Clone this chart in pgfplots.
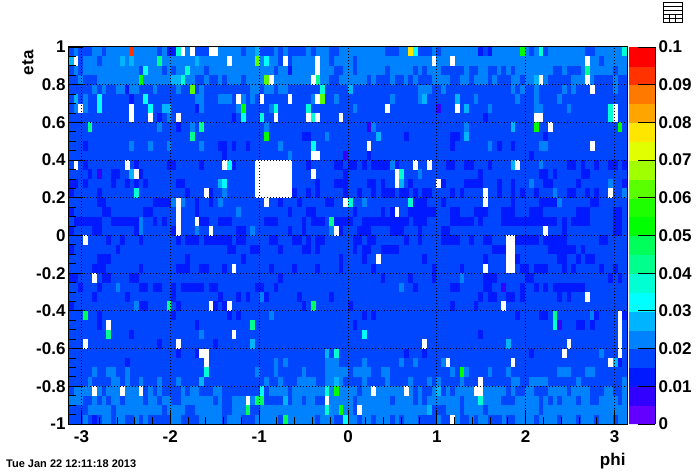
\documentclass[border=0pt]{standalone}
\usepackage{fontspec}
\setmainfont{Liberation Sans}
\usepackage{pgfplots}
\usepackage{pgfplotstable}
\pgfplotsset{compat=1.18}

% i = first phi bin (0-119), t = eta row from the top (0-39), n = bins in run, v = value*1000
\pgfplotstableread{
i t n v
0 0 120 22
0 1 120 22
0 2 120 22
0 3 120 22
0 4 120 17
0 5 120 17
0 6 120 17
0 7 120 17
0 8 120 17
0 9 120 17
0 10 120 17
0 11 120 17
0 12 120 17
0 13 120 17
0 14 120 17
0 15 120 17
0 16 120 17
0 17 120 17
0 18 120 17
0 19 120 17
0 20 120 17
0 21 120 17
0 22 120 17
0 23 120 17
0 24 120 17
0 25 120 17
0 26 120 17
0 27 120 17
0 28 120 17
0 29 120 17
0 30 120 17
0 31 120 17
0 32 120 17
0 33 120 17
0 34 120 17
0 35 120 17
0 36 120 22
0 37 120 22
0 38 120 22
0 39 120 22
0 0 1 17
2 0 3 17
7 0 1 17
13 0 1 92
19 0 1 17
21 0 2 12
23 0 1 37
27 0 3 17
37 0 1 17
40 0 1 27
41 0 3 17
45 0 1 17
47 0 4 17
52 0 1 17
56 0 2 17
68 0 3 17
73 0 1 77
74 0 1 32
75 0 3 17
79 0 1 17
88 0 1 12
89 0 1 17
90 0 1 12
97 0 1 52
99 0 1 17
101 0 1 37
102 0 1 17
111 0 2 17
119 0 1 37
0 1 1 27
2 1 1 17
6 1 1 17
11 1 1 27
13 1 1 27
19 1 1 42
27 1 1 27
40 1 1 62
42 1 1 32
45 1 1 17
47 1 1 17
56 1 1 17
61 1 1 17
114 1 1 17
0 2 1 17
2 2 1 17
15 2 1 17
16 2 1 32
20 2 1 17
22 2 1 17
25 2 1 37
29 2 1 17
44 2 1 17
47 2 1 12
57 2 2 17
61 2 1 17
68 2 1 17
74 2 1 17
76 2 1 17
80 2 5 17
86 2 2 17
90 2 2 17
93 2 1 17
95 2 1 17
104 2 2 17
107 2 3 17
111 2 1 42
117 2 1 17
0 3 2 17
3 3 3 17
15 3 1 52
22 3 2 27
24 3 1 37
27 3 2 17
30 3 2 17
33 3 1 17
37 3 1 17
42 3 1 62
53 3 1 42
56 3 2 17
64 3 1 17
66 3 3 17
70 3 2 17
73 3 1 17
75 3 3 17
82 3 2 17
86 3 1 17
90 3 1 17
92 3 3 17
97 3 1 17
100 3 1 27
103 3 5 17
113 3 4 17
118 3 2 17
5 4 1 22
7 4 1 22
10 4 2 22
12 4 1 12
13 4 2 22
18 4 1 22
23 4 1 22
26 4 1 62
28 4 1 22
39 4 2 22
42 4 2 22
45 4 2 22
54 4 1 37
60 4 1 27
75 4 3 22
80 4 1 22
95 4 1 22
97 4 1 22
100 4 1 22
106 4 1 22
108 4 1 22
117 4 1 22
1 5 1 27
3 5 1 22
6 5 1 32
13 5 1 12
16 5 1 32
27 5 2 22
32 5 3 22
37 5 1 22
39 5 1 22
52 5 1 22
54 5 1 62
57 5 1 22
69 5 1 22
75 5 1 22
76 5 1 27
83 5 1 27
87 5 1 22
96 5 1 22
100 5 1 22
105 5 1 22
1 6 1 22
3 6 1 22
6 6 1 32
17 6 1 32
20 6 2 27
27 6 1 12
28 6 1 22
36 6 1 22
37 6 1 52
43 6 1 22
44 6 1 37
51 6 1 37
61 6 1 22
79 6 1 7
85 6 1 27
90 6 1 22
100 6 2 22
107 6 1 22
116 6 1 37
19 7 1 12
21 7 1 22
35 7 1 12
37 7 1 32
41 7 1 37
52 7 1 37
89 7 1 12
116 7 1 37
4 8 1 42
19 8 1 22
23 8 1 12
26 8 1 22
28 8 1 42
42 8 1 22
64 8 1 7
65 8 1 22
85 8 1 22
95 8 1 27
100 8 1 52
118 8 1 52
26 9 1 42
42 9 1 52
50 9 2 12
55 9 1 22
66 9 1 27
72 9 1 12
82 9 2 12
85 9 1 27
102 9 1 12
3 10 1 12
13 10 1 22
17 10 1 22
21 10 1 22
28 10 1 22
32 10 2 12
35 10 1 12
38 10 1 12
45 10 1 22
52 10 1 32
82 10 1 12
90 10 1 22
92 10 1 12
95 10 1 12
101 10 2 22
33 11 1 12
47 11 1 22
59 11 1 7
64 11 1 12
99 11 1 12
3 12 1 12
14 12 1 12
21 12 2 12
28 12 1 12
34 12 1 32
35 12 1 12
51 12 1 12
57 12 2 12
60 12 2 12
63 12 1 12
65 12 4 12
69 12 1 22
70 12 1 12
81 12 2 12
85 12 2 12
90 12 1 12
95 12 1 27
101 12 1 22
107 12 2 12
110 12 1 12
113 12 1 12
116 12 2 12
119 12 1 12
4 13 1 12
6 13 1 7
9 13 2 12
13 13 1 27
15 13 1 12
59 13 1 12
71 13 1 37
75 13 1 22
88 13 1 12
101 13 2 12
104 13 1 12
110 13 2 12
0 14 2 12
3 14 1 12
9 14 1 12
12 14 1 12
14 14 1 12
16 14 1 12
23 14 2 12
32 14 1 27
33 14 1 32
53 14 1 12
57 14 3 12
64 14 2 12
67 14 1 12
71 14 1 27
73 14 1 12
80 14 1 12
85 14 4 12
92 14 1 12
95 14 1 12
99 14 1 22
102 14 2 12
109 14 1 12
116 14 1 22
119 14 1 12
0 15 1 12
6 15 1 12
14 15 1 37
25 15 1 12
30 15 1 12
33 15 1 22
48 15 1 12
51 15 1 12
53 15 1 12
59 15 1 12
62 15 1 12
65 15 1 12
67 15 3 12
71 15 2 12
74 15 1 12
76 15 2 12
82 15 1 12
84 15 1 12
92 15 1 12
95 15 1 12
97 15 1 12
100 15 1 12
104 15 1 22
107 15 2 12
111 15 1 12
113 15 1 12
119 15 1 22
6 16 2 12
18 16 4 12
22 16 1 22
24 16 1 22
27 16 1 12
30 16 1 12
32 16 1 22
45 16 1 12
49 16 1 12
55 16 2 12
60 16 1 37
63 16 1 22
73 16 1 37
74 16 3 12
80 16 1 12
95 16 1 12
101 16 4 12
105 16 1 22
112 16 2 12
0 17 1 12
7 17 2 12
16 17 2 12
27 17 1 12
36 17 1 22
47 17 1 12
51 17 2 12
61 17 1 12
67 17 1 12
69 17 1 12
73 17 6 12
82 17 2 12
87 17 3 12
93 17 3 12
99 17 3 12
109 17 3 12
117 17 2 12
1 18 6 12
9 18 6 12
15 18 1 22
18 18 1 12
20 18 1 12
28 18 2 12
32 18 3 12
42 18 3 12
50 18 1 12
52 18 3 12
56 18 1 42
57 18 4 12
63 18 10 12
74 18 3 12
82 18 5 12
88 18 1 12
93 18 3 12
96 18 9 12
106 18 1 12
108 18 4 12
117 18 2 12
0 19 1 12
5 19 2 12
14 19 1 12
15 19 1 22
22 19 1 12
27 19 1 22
36 19 2 12
39 19 1 22
47 19 1 12
50 19 1 12
56 19 1 22
58 19 1 12
62 19 3 12
69 19 3 12
75 19 1 12
80 19 2 12
106 19 1 12
117 19 2 12
8 20 1 12
11 20 1 12
15 20 1 12
23 20 1 12
25 20 3 12
29 20 6 12
36 20 2 12
43 20 2 12
48 20 2 12
51 20 1 12
53 20 2 12
61 20 2 12
64 20 2 12
72 20 1 12
75 20 1 12
80 20 4 12
86 20 1 12
89 20 2 12
96 20 5 12
102 20 5 12
114 20 2 12
0 21 1 12
10 21 1 12
34 21 2 12
39 21 2 12
45 21 1 12
50 21 2 12
53 21 1 12
61 21 1 12
63 21 2 12
67 21 4 12
91 21 3 12
103 21 6 12
110 21 1 12
6 22 3 12
25 22 1 12
37 22 1 12
58 22 1 12
63 22 1 12
76 22 1 12
89 22 1 12
96 22 1 12
105 22 2 12
109 22 1 12
111 22 2 12
5 23 3 12
15 23 1 12
23 23 3 12
28 23 2 12
33 23 1 12
43 23 1 12
48 23 1 12
53 23 1 12
58 23 1 12
65 23 1 12
78 23 1 12
84 23 1 12
97 23 2 12
100 23 3 12
106 23 1 12
108 23 1 12
114 23 1 12
117 23 1 12
0 24 2 12
7 24 2 12
13 24 2 12
45 24 1 12
67 24 1 12
73 24 1 12
78 24 1 12
84 24 1 22
89 24 3 12
98 24 2 12
116 24 1 12
118 24 1 12
2 25 1 12
6 25 1 12
10 25 1 22
15 25 2 12
18 25 2 12
22 25 1 12
24 25 5 12
30 25 2 12
40 25 2 12
44 25 1 12
71 25 1 22
74 25 1 12
82 25 2 12
89 25 2 12
93 25 1 7
97 25 1 12
100 25 1 12
102 25 1 12
104 25 7 12
5 26 1 12
12 26 1 12
22 26 1 12
32 26 1 12
36 26 1 12
38 26 1 12
41 26 1 22
42 26 1 12
49 26 1 12
56 26 1 12
88 26 1 12
90 26 2 12
94 26 2 12
97 26 1 12
105 26 1 12
107 26 1 12
0 27 1 12
14 27 1 22
15 27 2 12
21 27 1 42
23 27 1 12
31 27 1 12
33 27 1 12
50 27 1 12
52 27 1 47
60 27 1 12
82 27 1 12
87 27 1 12
3 28 1 47
6 28 1 12
22 28 1 12
34 28 1 12
36 28 1 12
43 28 1 22
63 28 1 12
65 28 1 12
96 28 1 12
101 28 2 12
104 28 1 42
112 28 1 22
113 28 1 12
119 28 1 12
6 29 1 12
27 29 1 12
39 29 1 42
61 29 1 12
104 29 1 37
105 29 1 7
109 29 2 12
112 29 1 12
8 30 1 42
13 30 1 12
28 30 1 22
63 30 1 32
88 30 1 12
19 31 1 12
31 31 1 12
39 31 1 27
94 31 1 27
23 32 1 12
27 32 1 12
55 32 1 27
57 32 1 37
72 32 1 12
76 32 1 12
99 32 1 12
114 32 1 22
12 33 1 12
44 33 1 22
46 33 1 22
55 33 3 22
63 33 1 22
71 33 1 22
74 33 1 22
80 33 1 22
117 33 1 27
118 33 1 12
5 34 1 22
8 34 2 22
12 34 1 22
29 34 1 37
40 34 1 22
44 34 1 22
50 34 1 22
55 34 5 22
61 34 4 22
67 34 2 22
82 34 1 22
84 34 1 52
85 34 1 22
90 34 1 22
94 34 1 22
105 34 3 22
111 34 2 22
4 35 1 22
9 35 2 22
12 35 1 22
15 35 1 22
19 35 1 22
23 35 1 22
28 35 1 27
42 35 1 22
45 35 1 22
49 35 4 22
55 35 2 22
57 35 1 27
58 35 1 22
63 35 1 22
68 35 1 22
73 35 1 22
77 35 1 22
79 35 1 22
84 35 1 22
95 35 2 22
99 35 4 22
109 35 1 22
119 35 1 22
0 36 1 17
7 36 1 17
16 36 1 17
18 36 1 17
20 36 4 17
25 36 1 17
28 36 3 17
33 36 8 17
41 36 1 32
42 36 1 17
47 36 1 17
55 36 1 37
57 36 1 52
62 36 1 17
74 36 1 17
76 36 2 17
79 36 1 27
80 36 1 17
82 36 1 17
94 36 1 17
96 36 2 17
100 36 3 17
107 36 1 17
112 36 3 17
117 36 2 17
3 37 2 17
6 37 1 17
8 37 1 17
11 37 1 17
16 37 1 17
19 37 1 17
22 37 2 17
31 37 1 17
33 37 2 17
40 37 2 47
42 37 4 17
46 37 1 27
47 37 1 17
50 37 1 17
53 37 2 17
61 37 1 17
69 37 1 17
74 37 1 17
76 37 1 17
84 37 1 17
88 37 1 37
93 37 3 17
101 37 1 17
103 37 1 17
105 37 1 17
109 37 1 17
112 37 2 17
118 37 1 17
0 38 4 17
9 38 1 17
20 38 1 17
25 38 2 17
33 38 2 17
38 38 1 47
39 38 2 17
55 38 1 37
58 38 1 52
61 38 1 17
77 38 1 27
78 38 3 17
84 38 1 17
89 38 1 17
101 38 1 17
0 39 3 17
4 39 1 17
5 39 1 12
6 39 1 17
9 39 1 17
12 39 2 17
15 39 1 17
17 39 5 17
24 39 4 17
33 39 1 17
37 39 2 17
39 39 1 17
45 39 1 17
46 39 1 47
53 39 1 17
57 39 2 17
59 39 1 32
62 39 1 17
65 39 1 17
69 39 1 17
71 39 1 17
75 39 4 17
80 39 2 17
84 39 2 17
87 39 1 17
90 39 3 17
94 39 2 17
100 39 1 17
105 39 1 17
109 39 1 17
113 39 1 17
117 39 1 17
}\runs

% empty bins
\pgfplotstableread{
i t n
24 0 1
26 0 1
30 0 2
1 1 1
34 1 1
46 1 1
53 1 1
78 1 1
82 1 1
111 1 1
53 2 1
43 3 1
52 3 1
101 3 1
111 3 1
112 4 1
36 5 1
41 5 1
47 5 1
53 5 1
2 6 1
13 6 1
68 6 1
83 6 1
117 6 1
13 7 1
17 7 1
23 7 1
44 7 1
51 7 1
53 7 1
58 7 1
100 7 2
117 7 1
103 8 1
64 10 1
112 10 1
52 11 2
1 12 1
12 12 1
33 12 1
40 12 8
74 12 1
77 12 1
96 12 1
14 13 1
40 13 8
52 13 1
70 13 1
40 14 8
70 14 1
79 14 1
29 15 1
40 15 8
89 15 1
116 15 1
23 16 1
42 16 1
59 16 1
89 16 1
23 17 1
70 17 1
23 18 1
27 18 1
23 19 1
30 19 1
57 19 1
102 19 1
3 20 1
94 20 2
94 21 2
66 22 1
94 22 2
35 23 1
89 23 1
94 23 2
5 24 1
111 26 1
30 27 1
34 27 1
93 27 1
118 28 1
8 29 1
118 29 1
35 30 1
118 30 1
3 31 1
23 31 1
76 31 1
107 31 1
118 31 1
28 32 2
106 32 1
118 32 1
29 33 1
81 33 1
95 33 1
116 33 1
88 35 1
5 36 1
11 36 1
15 36 1
65 36 1
72 36 1
87 36 2
38 37 1
55 37 1
62 38 1
82 39 1
}\holes

% one run of bins, 4.65pt per bin, 9.425pt per row
\pgfdeclareplotmark{binrun}{%
  \pgfpathrectangle{\pgfpoint{0pt}{-4.74pt}}{\pgfpoint{\runlen*4.65pt+0.06pt}{9.48pt}}%
  \pgfusepathqfill}

\begin{document}
\begin{tikzpicture}[x=1pt,y=1pt]
\useasboundingbox (0,0) rectangle (696,472);
\begin{axis}[
    at={(69pt,48pt)}, anchor=south west,
    scale only axis, width=558pt, height=377pt,
    xmin=-3.14, xmax=3.14, ymin=-1, ymax=1,
    xtick={-3,-2,-1,0,1,2,3},
    xticklabels={-3,-2,-1,0,1,2,3},
    ytick={-1,-0.8,-0.6,-0.4,-0.2,0,0.2,0.4,0.6,0.8,1},
    yticklabels={-1,-0.8,-0.6,-0.4,-0.2,0,0.2,0.4,0.6,0.8,1},
    minor x tick num=4, minor y tick num=3,
    tick align=inside, xtick pos=bottom, ytick pos=left,
    major tick length=14pt, minor tick length=7pt,
    tick style={black, line width=0.9pt},
    tick label style={font=\fontsize{17}{20}\selectfont\bfseries},
    xticklabel style={yshift=-3pt},
    clip mode=individual,
    axis on top,
    axis line style={black, line width=1pt},
    grid=major,
    major grid style={black, line width=1pt, dash pattern=on 1pt off 2pt},
    point meta min=0, point meta max=0.1,
    colormap access=piecewise constant,
    colormap={rootpal}{
      rgb255=(100,0,255) rgb255=(50,0,255) rgb255=(0,25,255) rgb255=(0,70,255)
      rgb255=(0,130,255) rgb255=(0,180,255) rgb255=(0,255,255) rgb255=(0,255,210)
      rgb255=(0,255,140) rgb255=(0,255,90) rgb255=(0,255,0) rgb255=(30,255,0)
      rgb255=(90,255,0) rgb255=(160,255,0) rgb255=(225,255,0) rgb255=(255,230,0)
      rgb255=(255,165,0) rgb255=(255,120,0) rgb255=(255,50,0) rgb255=(255,0,0)
    },
    colorbar sampled,
    colorbar style={
      samples=21,
      at={(1.0036,0)}, anchor=south west,
      width=26pt, height=377pt,
      ytick={0,0.01,0.02,0.03,0.04,0.05,0.06,0.07,0.08,0.09,0.1},
      yticklabels={0,0.01,0.02,0.03,0.04,0.05,0.06,0.07,0.08,0.09,0.1},
      ytick pos=right, tick align=inside,
      grid=none, minor y tick num=0,
      axis line style={draw=none},
      tick style={black, line width=0.9pt},
      yticklabel style={font=\fontsize{17}{20}\selectfont\bfseries, anchor=west, xshift=0pt},
      xticklabel style={yshift=0pt},
      axis on top,
    },
]
\addplot[scatter, only marks, mark=binrun,
    scatter/use mapped color={fill=mapped color},
    visualization depends on={\thisrow{n}\as\runlen},
    point meta={\thisrow{v}/1000}]
    table[x expr={-3.14+0.052333*\thisrow{i}}, y expr={1-0.05*(\thisrow{t}+0.5)}] {\runs};
\addplot[only marks, mark=binrun, mark options={fill=white},
    visualization depends on={\thisrow{n}\as\runlen}]
    table[x expr={-3.14+0.052333*\thisrow{i}}, y expr={1-0.05*(\thisrow{t}+0.5)}] {\holes};
\end{axis}
% palette frame and its long ticks
\draw[black, line width=1pt] (655,48) -- (655,425);
\foreach \k in {0,...,10} \draw[black, line width=0.9pt] (638,48+37.7*\k) -- (655,48+37.7*\k);
\node[font=\fontsize{17}{20}\selectfont\bfseries, anchor=east] at (629,11) {phi};
\node[font=\fontsize{17}{20}\selectfont\bfseries, rotate=90, anchor=east] at (28,425) {eta};
\node[font=\fontsize{11}{12}\selectfont\bfseries, anchor=west, inner sep=0pt] at (6,8.5) {Tue Jan 22 12:11:18 2013};
% the options icon, top right
\draw[black, line width=0.8pt] (663,450) rectangle (682,470);
\foreach \yy in {466,462,458,454} \draw[black, line width=0.5pt] (663,\yy) -- (682,\yy);
\foreach \xx in {669,675} \draw[black, line width=0.5pt] (\xx,450) -- (\xx,458);
\end{tikzpicture}
\end{document}
